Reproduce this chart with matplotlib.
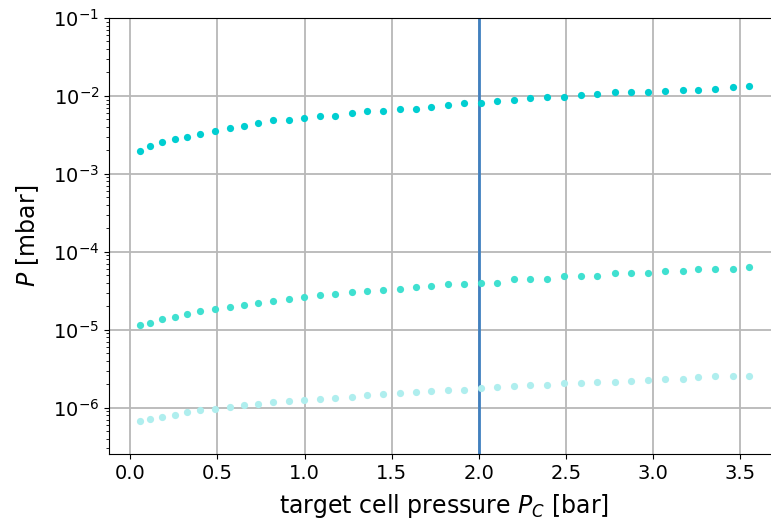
import matplotlib
matplotlib.use("Agg")
import matplotlib.pyplot as plt

# target cell pressure [bar]
pc = [0.053, 0.115, 0.182, 0.254, 0.325, 0.402, 0.486, 0.570, 0.650, 0.734,
      0.820, 0.910, 0.998, 1.086, 1.176, 1.270, 1.356, 1.450, 1.545, 1.637,
      1.725, 1.820, 1.916, 2.014, 2.105, 2.203, 2.295, 2.392, 2.490, 2.587,
      2.679, 2.783, 2.875, 2.972, 3.070, 3.168, 3.259, 3.356, 3.459, 3.551]

p_high = [1.96e-3, 2.25e-3, 2.54e-3, 2.77e-3, 2.97e-3, 3.27e-3, 3.54e-3, 3.84e-3, 4.07e-3, 4.49e-3,
          4.86e-3, 4.86e-3, 5.25e-3, 5.57e-3, 5.57e-3, 6.09e-3, 6.46e-3, 6.46e-3, 6.79e-3, 6.79e-3,
          7.20e-3, 7.64e-3, 8.11e-3, 8.11e-3, 8.61e-3, 8.86e-3, 9.31e-3, 9.59e-3, 9.59e-3, 1.02e-2,
          1.05e-2, 1.11e-2, 1.11e-2, 1.13e-2, 1.17e-2, 1.20e-2, 1.20e-2, 1.23e-2, 1.31e-2, 1.35e-2]

p_mid = [1.135e-5, 1.24e-5, 1.36e-5, 1.46e-5, 1.60e-5, 1.75e-5, 1.84e-5, 1.95e-5, 2.07e-5, 2.19e-5,
         2.33e-5, 2.45e-5, 2.60e-5, 2.76e-5, 2.84e-5, 3.01e-5, 3.10e-5, 3.23e-5, 3.35e-5, 3.56e-5,
         3.66e-5, 3.88e-5, 3.88e-5, 3.96e-5, 3.96e-5, 4.42e-5, 4.42e-5, 4.42e-5, 4.83e-5, 4.83e-5,
         4.83e-5, 5.28e-5, 5.28e-5, 5.28e-5, 5.60e-5, 5.60e-5, 6.05e-5, 6.05e-5, 6.05e-5, 6.41e-5]

p_low = [6.78e-7, 7.12e-7, 7.55e-7, 8.09e-7, 8.75e-7, 9.29e-7, 9.57e-7, 1.035e-6, 1.07e-6, 1.12e-6,
         1.17e-6, 1.22e-6, 1.26e-6, 1.30e-6, 1.34e-6, 1.38e-6, 1.44e-6, 1.50e-6, 1.55e-6, 1.60e-6,
         1.63e-6, 1.68e-6, 1.71e-6, 1.78e-6, 1.83e-6, 1.89e-6, 1.95e-6, 1.95e-6, 2.05e-6, 2.06e-6,
         2.12e-6, 2.17e-6, 2.23e-6, 2.30e-6, 2.37e-6, 2.37e-6, 2.47e-6, 2.52e-6, 2.52e-6, 2.59e-6]

pc_marker = 2.0

fig = plt.figure(figsize=(7.71, 5.22), dpi=100)
ax = fig.add_axes([0.1414, 0.1303, 0.870, 0.8352])

ax.plot(pc, p_high, 'o', color='#00CED1', markersize=5.2, markeredgewidth=0, zorder=3)
ax.plot(pc, p_mid, 'o', color='#40E0D0', markersize=5.2, markeredgewidth=0, zorder=3)
ax.plot(pc, p_low, 'o', color='#AFEEEE', markersize=5.2, markeredgewidth=0, zorder=3)
ax.axvline(pc_marker, color='#4080c0', linewidth=2, zorder=2)

ax.set_yscale('log')
ax.set_ylim(2.55e-7, 1e-1)
ax.set_xlim(-0.122, 3.726)
ax.set_xticks([0.0, 0.5, 1.0, 1.5, 2.0, 2.5, 3.0, 3.5])
ax.grid(True, which='major', color='#b8b8b8', linewidth=1.3)
ax.set_axisbelow(True)

ax.tick_params(labelsize=14)
ax.set_xlabel(r'target cell pressure $P_C$ [bar]', fontsize=17, labelpad=7)
ax.set_ylabel(r'$P$ [mbar]', fontsize=17, labelpad=9)

fig.savefig('out.png', dpi=100)
